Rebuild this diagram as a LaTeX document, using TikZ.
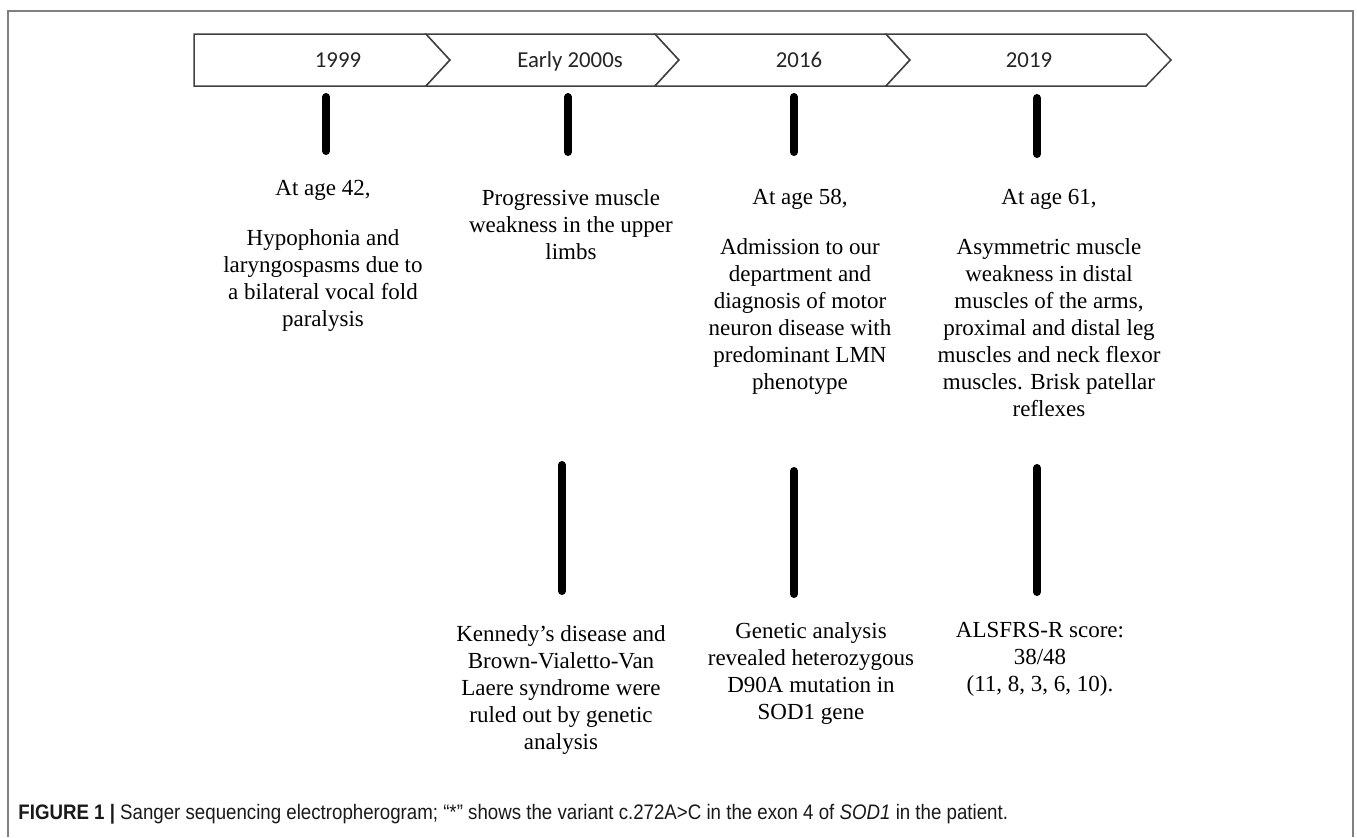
\documentclass[tikz,border=0pt]{standalone}
\usepackage{fontspec}
\setmainfont{Liberation Serif}
\newfontfamily\yearfont{Carlito}
\newfontfamily\capfont[FakeStretch=0.89]{Liberation Sans}
\usetikzlibrary{positioning}
\definecolor{chevgray}{HTML}{404040}
\definecolor{framegray}{HTML}{808080}

\begin{document}
\begin{tikzpicture}[x=0.5pt,y=-0.5pt,
    evtext/.style={align=center,inner sep=0pt,anchor=north,font=\fontsize{11.5}{13.5}\selectfont},
    yearlbl/.style={inner sep=0pt,anchor=base,text=black!85,font=\yearfont\fontsize{11.4}{13}\selectfont},
    chev/.style={draw=chevgray,line width=0.75pt,fill=white},
    bar/.style={line width=4pt,line cap=round}]
    \useasboundingbox (0,0) rectangle (1357,837);
    % frame, open at the bottom
    \draw[framegray,line width=1pt] (8,837) -- (8,11) -- (1353,11) -- (1353,837);
    % timeline
    \draw[chev] (194,34) -- (426,34) -- (450,60) -- (426,86) -- (194,86) -- cycle;
    \draw[chev] (426,34) -- (655,34) -- (679,60) -- (655,86) -- (426,86) -- (450,60) -- cycle;
    \draw[chev] (655,34) -- (886,34) -- (910,60) -- (886,86) -- (655,86) -- (679,60) -- cycle;
    \draw[chev] (886,34) -- (1146,34) -- (1171,60) -- (1146,86) -- (886,86) -- (910,60) -- cycle;
    \node (y1999) [yearlbl] at (338,67) {1999};
    \node (y2000) [yearlbl] at (570,67) {Early 2000s};
    \node (y2016) [yearlbl] at (799,67) {2016};
    \node (y2019) [yearlbl] at (1029,67) {2019};
    % ticks
    \draw[bar] (326,97) -- (326,151);
    \draw[bar] (568,97) -- (568,152);
    \draw[bar] (794,97) -- (794,152);
    \draw[bar] (1037,98) -- (1037,154);
    \draw[bar] (562,465) -- (562,591);
    \draw[bar] (794,471) -- (794,594);
    \draw[bar] (1037,468) -- (1037,592);
    % events
    \node (e1999) [evtext] at (323,180) {At age 42,\\[11.5pt]Hypophonia and\\laryngospasms due to\\a bilateral vocal fold\\paralysis};
    \node (e2000) [evtext] at (571,189) {Progressive muscle\\weakness in the upper\\limbs};
    \node (e2016) [evtext] at (800,189) {At age 58,\\[11.5pt]Admission to our\\department and\\diagnosis of motor\\neuron disease with\\predominant LMN\\phenotype};
    \node (e2019) [evtext] at (1049,189) {At age 61,\\[11.5pt]Asymmetric muscle\\weakness in distal\\muscles of the arms,\\proximal and distal leg\\muscles and neck flexor\\muscles. Brisk patellar\\reflexes};
    \node (g2000) [evtext] at (561,625) {Kennedy’s disease and\\Brown-Vialetto-Van\\Laere syndrome were\\ruled out by genetic\\analysis};
    \node (g2016) [evtext] at (811,622) {Genetic analysis\\revealed heterozygous\\D90A mutation in\\SOD1 gene};
    \node (g2019) [evtext] at (1040,622) {ALSFRS-R score:\\38/48\\(11, 8, 3, 6, 10).};
    % caption
    \node (cap) [anchor=base west,inner sep=0pt,text=black!90,font=\capfont\fontsize{10.5}{12}\selectfont] at (18,819) {\textbf{FIGURE 1 |} Sanger sequencing electropherogram; “*” shows the variant c.272A>C in the exon 4 of \textit{SOD1} in the patient.};
\end{tikzpicture}
\end{document}
